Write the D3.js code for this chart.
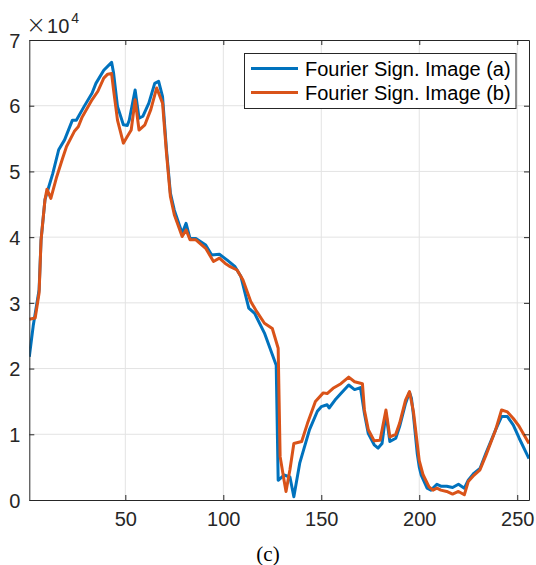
<!DOCTYPE html>
<html>
<head>
<meta charset="utf-8">
<title>fourier sign</title>
<script src="https://cdn.jsdelivr.net/npm/d3@7"></script>
<style>
  body { margin: 0; background: white; }
</style>
</head>
<body>
<div id="chart"></div>
<script>
// data (y in raw units, axis shows x10^4)
const seriesNames = ["Fourier Sign. Image (a)", "Fourier Sign. Image (b)"];
const xTicks = [50, 100, 150, 200, 250];
const yTicks = [0, 1, 2, 3, 4, 5, 6, 7];

const xA = [1, 3, 6, 7, 9, 11, 13, 16, 19, 23, 25, 29, 33, 35, 39, 43, 44, 46, 49, 51, 52, 55, 57, 59, 62, 65, 67, 69, 71, 73, 75, 79, 81, 83, 86, 91, 94, 98, 102, 106, 109, 113, 116, 121, 127, 128, 131, 134, 136, 139, 144, 148, 150, 153, 154, 157, 160, 164, 167, 170, 172, 174, 177, 179, 181, 183, 185, 188, 190, 193, 195, 196, 197, 198, 199, 200, 201, 204, 206, 209, 211, 214, 217, 220, 223, 225, 228, 231, 234, 239, 242, 245, 248, 251, 256];
const yA = [21800, 26500, 32000, 39600, 45700, 47700, 49700, 53300, 54800, 57800, 57800, 59900, 61900, 63400, 65400, 66600, 65000, 59900, 57100, 57000, 57800, 62400, 58100, 58400, 60400, 63400, 63700, 61400, 53300, 46700, 44100, 40600, 42100, 39800, 39800, 38800, 37300, 37400, 36500, 35500, 34000, 29200, 28400, 25400, 20500, 3000, 3800, 3500, 500, 5600, 10700, 13500, 14200, 14500, 14000, 15200, 16200, 17500, 16800, 17100, 13200, 10100, 8400, 7900, 8600, 13200, 8900, 9400, 11200, 14700, 16400, 15500, 13000, 10000, 7000, 5000, 3800, 1800, 1500, 2400, 2100, 2100, 1900, 2400, 1800, 3000, 4100, 4800, 7100, 10700, 12700, 12700, 11400, 9400, 6300];

const xB = [1, 4, 6, 7, 9, 10, 12, 15, 18, 20, 24, 26, 28, 33, 36, 39, 41, 43, 44, 46, 49, 51, 53, 55, 57, 60, 63, 66, 69, 71, 73, 75, 79, 81, 83, 86, 91, 95, 98, 101, 103, 107, 110, 114, 117, 121, 125, 128, 129, 131, 132, 134, 136, 140, 143, 147, 151, 153, 156, 160, 164, 167, 171, 172, 174, 177, 180, 183, 185, 188, 190, 193, 195, 197, 198, 200, 202, 205, 207, 209, 211, 214, 217, 220, 223, 225, 228, 231, 234, 239, 242, 245, 248, 251, 256];
const yB = [27500, 27700, 31500, 39600, 45700, 47300, 45900, 49200, 52000, 53800, 56100, 56800, 58300, 60900, 62200, 64200, 64800, 64900, 62400, 57800, 54300, 55300, 56300, 60900, 56300, 57100, 59400, 62700, 60400, 52800, 46200, 43400, 40100, 41100, 39600, 39600, 38300, 36300, 36800, 36000, 35600, 35000, 33500, 30200, 28700, 26900, 26100, 23100, 6600, 3000, 1300, 4600, 8600, 8900, 11700, 15000, 16300, 16200, 17000, 17700, 18700, 18000, 17700, 13700, 10700, 9000, 9100, 13700, 9600, 10000, 11700, 15200, 16500, 13500, 11000, 6000, 3800, 2000, 1500, 1800, 1500, 1300, 900, 1300, 800, 2800, 3800, 4600, 6800, 10700, 13700, 13400, 12400, 11200, 8600];

const colors = ["#0072BD", "#D95319"];

const width = 536, height = 565;
const margin = {top: 40, right: 7, bottom: 65, left: 29.3};

const x = d3.scaleLinear()
    .domain([1, 256])
    .range([margin.left, width - margin.right]);
const y = d3.scaleLinear()
    .domain([0, 70000])
    .range([height - margin.bottom, margin.top]);

const svg = d3.select("#chart").append("svg")
    .attr("width", width)
    .attr("height", height)
    .attr("font-family", "'Liberation Sans', Arial, sans-serif");

// grid
svg.append("g")
    .attr("stroke", "#e3e3e3")
    .attr("stroke-width", 1)
  .selectAll("line.gx")
  .data(xTicks)
  .join("line")
    .attr("x1", d => x(d)).attr("x2", d => x(d))
    .attr("y1", y(0)).attr("y2", y(70000));
svg.append("g")
    .attr("stroke", "#e3e3e3")
    .attr("stroke-width", 1)
  .selectAll("line.gy")
  .data(yTicks.slice(1, -1))
  .join("line")
    .attr("x1", x(1)).attr("x2", x(256))
    .attr("y1", d => y(d * 1e4)).attr("y2", d => y(d * 1e4));

// lines
svg.append("clipPath").attr("id", "clip")
  .append("rect")
    .attr("x", x(1)).attr("y", y(70000))
    .attr("width", x(256) - x(1)).attr("height", y(0) - y(70000));

const line = d3.line()
    .x(d => x(d[0]))
    .y(d => y(d[1]));

const series = [d3.zip(xA, yA), d3.zip(xB, yB)];
svg.append("g")
    .attr("clip-path", "url(#clip)")
  .selectAll("path")
  .data(series)
  .join("path")
    .attr("fill", "none")
    .attr("stroke", (d, i) => colors[i])
    .attr("stroke-width", 3)
    .attr("stroke-linejoin", "round")
    .attr("d", line);

// axes (box with inward ticks)
const axisColor = "#262626";
const bottomAxis = svg.append("g")
    .attr("transform", `translate(0,${y(0)})`)
    .call(d3.axisBottom(x).tickValues(xTicks).tickSizeInner(-5).tickSizeOuter(0).tickPadding(12));
const leftAxis = svg.append("g")
    .attr("transform", `translate(${x(1)},0)`)
    .call(d3.axisLeft(y).tickValues(yTicks.map(d => d * 1e4)).tickFormat(d => d / 1e4)
      .tickSizeInner(-5).tickSizeOuter(0).tickPadding(9));
const topAxis = svg.append("g")
    .attr("transform", `translate(0,${y(70000)})`)
    .call(d3.axisTop(x).tickValues(xTicks).tickSizeInner(-5).tickSizeOuter(0).tickFormat(""));
const rightAxis = svg.append("g")
    .attr("transform", `translate(${x(256)},0)`)
    .call(d3.axisRight(y).tickValues(yTicks.map(d => d * 1e4)).tickSizeInner(-5).tickSizeOuter(0).tickFormat(""));

[bottomAxis, leftAxis, topAxis, rightAxis].forEach(g => {
  g.selectAll(".domain, line").attr("stroke", axisColor);
  g.selectAll("text")
      .attr("fill", axisColor)
      .attr("font-size", 20)
      .attr("font-family", "'Liberation Sans', Arial, sans-serif");
});
leftAxis.selectAll("text").attr("dy", "0.36em");

// exponent label
const expo = svg.append("text")
    .attr("x", 26)
    .attr("y", 32.5)
    .attr("fill", axisColor)
    .attr("font-size", 20);
expo.append("tspan").attr("font-size", 24).attr("font-family", "'DejaVu Sans', sans-serif")
    .attr("font-weight", 200).text("\u00d7");
expo.append("tspan").attr("dx", 1).text("10");
expo.append("tspan").attr("dx", 2).attr("dy", -10).attr("font-size", 14).text("4");

// legend
const legend = svg.append("g");
legend.append("rect")
    .attr("x", 244.5).attr("y", 53.5)
    .attr("width", 271.5).attr("height", 55)
    .attr("fill", "white")
    .attr("stroke", axisColor)
    .attr("stroke-width", 1);
const item = legend.selectAll("g")
  .data(seriesNames)
  .join("g")
    .attr("transform", (d, i) => `translate(0,${68.5 + i * 24})`);
item.append("line")
    .attr("x1", 251).attr("x2", 298)
    .attr("stroke", (d, i) => colors[i])
    .attr("stroke-width", 3);
item.append("text")
    .attr("x", 305)
    .attr("dy", "0.36em")
    .attr("font-size", 20)
    .attr("fill", "#000")
    .text(d => d);

// caption
svg.append("text")
    .attr("x", 268)
    .attr("y", 561)
    .attr("text-anchor", "middle")
    .attr("font-family", "'Liberation Serif', 'Times New Roman', serif")
    .attr("font-size", 21)
    .attr("fill", "#000")
    .text("(c)");
</script>
</body>
</html>
